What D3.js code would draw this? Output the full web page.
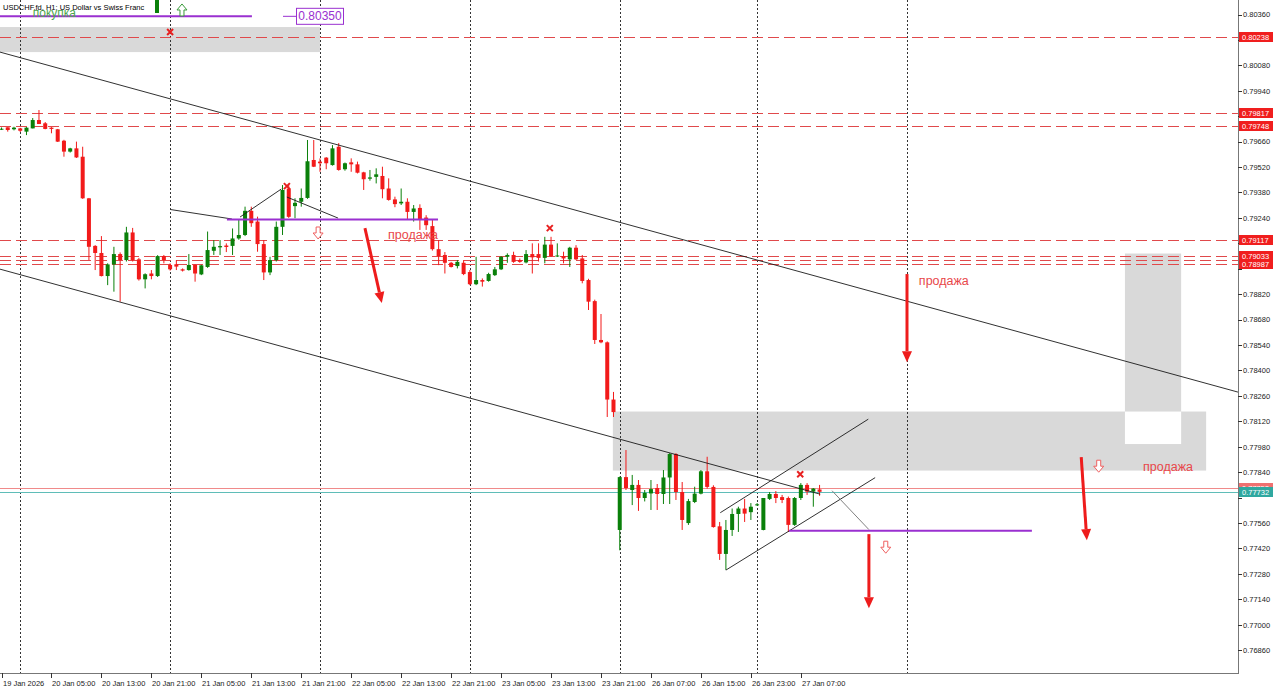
<!DOCTYPE html>
<html>
<head>
<meta charset="utf-8">
<title>USDCHF.fd H1</title>
<script src="https://cdn.jsdelivr.net/npm/d3@7"></script>
<style>
  body { margin: 0; background: #fff; overflow: hidden; }
  text { font-family: "Liberation Sans", Arial, sans-serif; }
</style>
</head>
<body>
<script>
  // H1 bars, index 0 = 19 Jan 21:00
  const opens = [0.79729,0.79739,0.79728,0.79733,0.79715,0.79733,0.79779,0.79761,0.79737,0.79728,
    0.79665,0.79605,0.79623,0.79577,0.79348,0.79086,0.79047,0.78920,0.78984,0.79041,
    0.79008,0.79160,0.79012,0.78902,0.78934,0.78920,0.79030,0.78981,0.78985,0.78957,
    0.78953,0.78981,0.78929,0.78970,0.79059,0.79078,0.79088,0.79086,0.79127,0.79146,
    0.79279,0.79220,0.79096,0.78940,0.79008,0.79191,0.79402,0.79305,0.79329,0.79350,
    0.79559,0.79550,0.79572,0.79531,0.79632,0.79508,0.79546,0.79535,0.79491,0.79456,
    0.79466,0.79471,0.79402,0.79342,0.79320,0.79329,0.79273,0.79295,0.79242,0.79195,
    0.79068,0.79036,0.78993,0.78975,0.78993,0.78942,0.78875,0.78898,0.78893,0.78925,
    0.78957,0.79026,0.79036,0.79008,0.78995,0.79041,0.79041,0.79020,0.79093,0.79030,
    0.79030,0.79012,0.79076,0.79017,0.78898,0.78782,0.78568,0.78555,0.78240,0.77522,
    0.77813,0.77742,0.77770,0.77698,0.77723,0.77753,0.77720,0.77811,0.77940,0.77731,
    0.77560,0.77676,0.77722,0.77845,0.77759,0.77542,0.77390,0.77522,0.77610,0.77640,
    0.77620,0.77660,0.77522,0.77693,0.77720,0.77703,0.77698,0.77550,0.77698,0.77770,
    0.77733,0.77745];
  const highs = [0.79738,0.79739,0.79742,0.79736,0.79740,0.79790,0.79834,0.79768,0.79740,0.79730,
    0.79670,0.79626,0.79660,0.79632,0.79350,0.79090,0.79140,0.78990,0.79081,0.79050,
    0.79191,0.79185,0.79020,0.78935,0.78953,0.79035,0.79036,0.78990,0.79008,0.78962,
    0.79041,0.78985,0.78982,0.79165,0.79118,0.79118,0.79100,0.79182,0.79229,0.79302,
    0.79302,0.79247,0.79118,0.79026,0.79220,0.79421,0.79421,0.79348,0.79402,0.79669,
    0.79669,0.79568,0.79575,0.79641,0.79652,0.79545,0.79568,0.79550,0.79494,0.79504,
    0.79513,0.79522,0.79458,0.79357,0.79402,0.79348,0.79311,0.79315,0.79255,0.79229,
    0.79118,0.79052,0.78998,0.79008,0.79008,0.78953,0.79026,0.78907,0.78938,0.78970,
    0.79030,0.79045,0.79054,0.79017,0.79063,0.79100,0.79100,0.79136,0.79136,0.79100,
    0.79054,0.79081,0.79090,0.79036,0.78905,0.78790,0.78711,0.78560,0.78282,0.77816,
    0.77962,0.77825,0.77797,0.77742,0.77797,0.77775,0.77852,0.77945,0.77945,0.77786,
    0.77693,0.77760,0.77852,0.77925,0.77768,0.77566,0.77577,0.77640,0.77650,0.77693,
    0.77670,0.77670,0.77698,0.77731,0.77736,0.77715,0.77706,0.77703,0.77780,0.77780,
    0.77753,0.77770];
  const lows = [0.79724,0.79715,0.79722,0.79713,0.79696,0.79733,0.79757,0.79728,0.79706,0.79658,
    0.79577,0.79600,0.79570,0.79345,0.79008,0.78953,0.78918,0.78870,0.78834,0.78779,
    0.79000,0.79000,0.78895,0.78852,0.78902,0.78915,0.78990,0.78950,0.78953,0.78945,
    0.78950,0.78889,0.78925,0.78965,0.79036,0.79036,0.79052,0.79036,0.79120,0.79140,
    0.79191,0.79054,0.78898,0.78925,0.79000,0.79146,0.79240,0.79238,0.79302,0.79345,
    0.79520,0.79494,0.79508,0.79528,0.79500,0.79500,0.79494,0.79485,0.79394,0.79445,
    0.79430,0.79348,0.79335,0.79299,0.79311,0.79229,0.79220,0.79174,0.79174,0.79060,
    0.78980,0.78934,0.78967,0.78962,0.78925,0.78870,0.78870,0.78862,0.78889,0.78920,
    0.78953,0.78993,0.78993,0.78993,0.78990,0.78934,0.79000,0.78990,0.79025,0.79025,
    0.78990,0.78970,0.79008,0.78880,0.78733,0.78546,0.78550,0.78144,0.78144,0.77410,
    0.77742,0.77659,0.77627,0.77679,0.77632,0.77632,0.77665,0.77665,0.77687,0.77522,
    0.77550,0.77670,0.77718,0.77750,0.77535,0.77357,0.77302,0.77489,0.77511,0.77566,
    0.77577,0.77655,0.77520,0.77687,0.77670,0.77670,0.77511,0.77545,0.77687,0.77715,
    0.77650,0.77710];
  const closes = [0.79731,0.79724,0.79737,0.79720,0.79737,0.79779,0.79757,0.79730,0.79730,0.79660,
    0.79605,0.79623,0.79573,0.79348,0.79081,0.79047,0.78920,0.78984,0.79041,0.79008,
    0.79160,0.79008,0.78902,0.78930,0.78920,0.79030,0.79008,0.78957,0.78972,0.78950,
    0.78981,0.78934,0.78979,0.79063,0.79081,0.79085,0.79080,0.79127,0.79146,0.79279,
    0.79211,0.79096,0.78940,0.79008,0.79191,0.79394,0.79246,0.79323,0.79350,0.79552,
    0.79522,0.79541,0.79541,0.79623,0.79504,0.79541,0.79535,0.79489,0.79453,0.79463,
    0.79480,0.79398,0.79339,0.79316,0.79329,0.79273,0.79292,0.79231,0.79200,0.79068,
    0.79030,0.78993,0.78970,0.78998,0.78931,0.78875,0.78898,0.78889,0.78931,0.78957,
    0.79026,0.79036,0.78998,0.78998,0.79041,0.79023,0.79020,0.79093,0.79030,0.79033,
    0.79017,0.79076,0.79012,0.78893,0.78779,0.78568,0.78555,0.78240,0.78171,0.77813,
    0.77753,0.77770,0.77698,0.77726,0.77747,0.77720,0.77811,0.77940,0.77731,0.77577,
    0.77681,0.77722,0.77845,0.77759,0.77538,0.77390,0.77522,0.77610,0.77640,0.77612,
    0.77650,0.77663,0.77698,0.77720,0.77698,0.77687,0.77550,0.77698,0.77770,0.77733,
    0.77750,0.77732];

  const priceTicks = [0.80360,0.80220,0.80080,0.79940,0.79800,0.79660,0.79520,0.79380,0.79240,0.79100,
    0.78960,0.78820,0.78680,0.78540,0.78400,0.78260,0.78120,0.77980,0.77840,0.77700,
    0.77560,0.77420,0.77280,0.77140,0.77000,0.76860];
  const timeTicks = [0,8,16,24,32,40,48,56,64,72,80,88,96,104,112,120,128];
  const timeLabels = ["19 Jan 2026","20 Jan 05:00","20 Jan 13:00","20 Jan 21:00","21 Jan 05:00",
    "21 Jan 13:00","21 Jan 21:00","22 Jan 05:00","22 Jan 13:00","22 Jan 21:00","23 Jan 05:00",
    "23 Jan 13:00","23 Jan 21:00","26 Jan 07:00","26 Jan 15:00","26 Jan 23:00","27 Jan 07:00"];
  const daySeparators = [3, 27, 51, 75, 99, 121, 145];

  // horizontal levels (red dashed) and the bid / ask lines
  const levels = [0.80238, 0.79817, 0.79748, 0.79117, 0.79033, 0.79008, 0.78987];
  const levelTags = [0.80238, 0.79817, 0.79748, 0.79117, 0.79033, 0.78987];
  const askPrice = 0.77752;
  const bidPrice = 0.77732;

  // drawn objects, anchored on bar index / price
  const zones = [
    { i1: -1, i2: 51.0, p1: 0.80291, p2: 0.80153 },
    { i1: 97.9, i2: 192.9, p1: 0.78174, p2: 0.77849 },
    { i1: 179.9, i2: 188.9, p1: 0.79044, p2: 0.77995 }
  ];
  const trendLines = [
    { i1: -0.24, p1: 0.80153, i2: 198.0, p2: 0.78281 },
    { i1: -0.24, p1: 0.78958, i2: 131.1, p2: 0.77719 },
    { i1: 27.1, p1: 0.79286, i2: 36.9, p2: 0.79234 },
    { i1: 38.2, p1: 0.79245, i2: 44.8, p2: 0.79399 },
    { i1: 45.7, p1: 0.79355, i2: 53.9, p2: 0.79239 },
    { i1: 115.1, p1: 0.77617, i2: 138.8, p2: 0.78132 },
    { i1: 116.0, p1: 0.77301, i2: 139.9, p2: 0.77810 }
  ];
  const grayLine = { i1: 133.0, p1: 0.77738, i2: 138.9, p2: 0.77524 };
  const purpleLines = [
    { i1: -1, i2: 40.1, p: 0.80350 },
    { i1: 36.1, i2: 69.9, p: 0.79231 },
    { i1: 126.1, i2: 165.0, p: 0.77518 }
  ];
  const redArrows = [
    { i1: 58.2, p1: 0.79184, i2: 60.9, p2: 0.78771 },
    { i1: 145, p1: 0.78931, i2: 145, p2: 0.78446 },
    { i1: 138.9, p1: 0.77499, i2: 138.9, p2: 0.77091 },
    { i1: 172.9, p1: 0.77923, i2: 173.8, p2: 0.77466 }
  ];
  const hollowDown = [[50.7, 0.79157], [141.6, 0.77427], [175.7, 0.77873]];
  const hollowUp = [[28.9, 0.80385]];
  const crosses = [[27.0, 0.80264], [45.7, 0.79415], [87.8, 0.79184], [127.9, 0.77829]];
  const sellTexts = [[61.9, 0.79146], [146.9, 0.78898], [182.8, 0.77873]];

  const W = 1280, H = 692, plotW = 1238, plotH = 673;
  const bull = "#0a800a", bear = "#f21a1a", levelRed = "#e0494b", purple = "#9a30d0";

  const x = d3.scaleLinear().domain([0, 145]).range([1.5, 907]);
  const y = d3.scaleLinear().domain([0.76860, 0.80360]).range([650.2, 14.5]);

  const bars = opens.map((o, i) => ({ i, o, h: highs[i], l: lows[i], c: closes[i] }));

  const svg = d3.select("body").append("svg").attr("width", W).attr("height", H);
  svg.append("rect").attr("width", W).attr("height", H).attr("fill", "#fff");
  svg.append("clipPath").attr("id", "plot").append("rect").attr("width", plotW).attr("height", plotH);
  const plot = svg.append("g").attr("clip-path", "url(#plot)");

  // zones, with the overlap knocked out like the terminal does
  plot.selectAll("rect.zone").data(zones).join("rect").attr("class", "zone")
    .attr("x", d => x(d.i1)).attr("width", d => x(d.i2) - x(d.i1))
    .attr("y", d => y(d.p1)).attr("height", d => y(d.p2) - y(d.p1))
    .attr("fill", "#d9d9d9");
  const a = zones[1], b = zones[2];
  plot.append("rect")
    .attr("x", x(Math.max(a.i1, b.i1))).attr("width", x(Math.min(a.i2, b.i2)) - x(Math.max(a.i1, b.i1)))
    .attr("y", y(Math.min(a.p1, b.p1))).attr("height", y(Math.max(a.p2, b.p2)) - y(Math.min(a.p1, b.p1)))
    .attr("fill", "#fff");

  // day separators
  plot.selectAll("line.sep").data(daySeparators).join("line").attr("class", "sep")
    .attr("x1", d => Math.round(x(d)) + 0.5).attr("x2", d => Math.round(x(d)) + 0.5)
    .attr("y1", 0).attr("y2", plotH)
    .attr("stroke", "#333").attr("stroke-dasharray", "2,2");

  // levels
  plot.selectAll("line.lvl").data(levels).join("line").attr("class", "lvl")
    .attr("x1", 0).attr("x2", plotW)
    .attr("y1", d => Math.round(y(d)) + 0.5).attr("y2", d => Math.round(y(d)) + 0.5)
    .attr("stroke", levelRed).attr("stroke-dasharray", "11,5");

  plot.append("line").attr("x1", 0).attr("x2", plotW)
    .attr("y1", Math.round(y(askPrice)) + 0.5).attr("y2", Math.round(y(askPrice)) + 0.5)
    .attr("stroke", "#f08a8a");
  plot.append("line").attr("x1", 0).attr("x2", plotW)
    .attr("y1", Math.round(y(bidPrice)) + 0.5).attr("y2", Math.round(y(bidPrice)) + 0.5)
    .attr("stroke", "#5fbdb8");

  // candles
  const cg = plot.append("g");
  cg.selectAll("line").data(bars).join("line")
    .attr("x1", d => x(d.i)).attr("x2", d => x(d.i))
    .attr("y1", d => y(d.h)).attr("y2", d => y(d.l))
    .attr("stroke", d => d.c >= d.o ? bull : bear).attr("stroke-width", 1);
  cg.selectAll("rect").data(bars).join("rect")
    .attr("x", d => x(d.i) - 2).attr("width", 4)
    .attr("y", d => y(Math.max(d.o, d.c)))
    .attr("height", d => Math.max(1, y(Math.min(d.o, d.c)) - y(Math.max(d.o, d.c))))
    .attr("fill", d => d.c >= d.o ? bull : bear);

  // trend lines
  plot.selectAll("line.tl").data(trendLines).join("line").attr("class", "tl")
    .attr("x1", d => x(d.i1)).attr("y1", d => y(d.p1))
    .attr("x2", d => x(d.i2)).attr("y2", d => y(d.p2))
    .attr("stroke", "#1a1a1a").attr("stroke-width", 0.9);
  plot.append("line")
    .attr("x1", x(grayLine.i1)).attr("y1", y(grayLine.p1))
    .attr("x2", x(grayLine.i2)).attr("y2", y(grayLine.p2))
    .attr("stroke", "#808080");

  plot.selectAll("line.pl").data(purpleLines).join("line").attr("class", "pl")
    .attr("x1", d => x(d.i1)).attr("x2", d => x(d.i2))
    .attr("y1", d => y(d.p)).attr("y2", d => y(d.p))
    .attr("stroke", purple).attr("stroke-width", 2);

  // price label of the top purple line
  const topY = y(purpleLines[0].p);
  plot.append("line").attr("x1", 283).attr("x2", 296).attr("y1", topY).attr("y2", topY)
    .attr("stroke", purple);
  plot.append("rect").attr("x", 296.5).attr("y", topY - 8).attr("width", 47).attr("height", 16)
    .attr("fill", "#fff").attr("stroke", purple);
  plot.append("text").attr("x", 320).attr("y", topY + 4).attr("text-anchor", "middle")
    .attr("font-size", 12).attr("fill", purple).text("0.80350");

  // red arrows
  redArrows.forEach(d => {
    const x1 = x(d.i1), y1 = y(d.p1), x2 = x(d.i2), y2 = y(d.p2);
    const ang = Math.atan2(y2 - y1, x2 - x1), len = 11, hw = 5;
    const bx = x2 - len * Math.cos(ang), by = y2 - len * Math.sin(ang);
    plot.append("line").attr("x1", x1).attr("y1", y1).attr("x2", bx).attr("y2", by)
      .attr("stroke", "#ee1c1c").attr("stroke-width", 3);
    const px = -Math.sin(ang) * hw, py = Math.cos(ang) * hw;
    plot.append("path")
      .attr("d", `M${x2},${y2}L${bx + px},${by + py}L${bx - px},${by - py}Z`)
      .attr("fill", "#ee1c1c");
  });

  // hollow arrows
  const downPath = (cx, cy) => `M${cx - 2},${cy - 6}H${cx + 2}V${cy}H${cx + 5}L${cx},${cy + 6}L${cx - 5},${cy}H${cx - 2}Z`;
  const upPath = (cx, cy) => `M${cx - 2},${cy + 6}H${cx + 2}V${cy}H${cx + 5}L${cx},${cy - 6}L${cx - 5},${cy}H${cx - 2}Z`;
  hollowDown.forEach(([i, p]) => plot.append("path").attr("d", downPath(x(i), y(p)))
    .attr("fill", "#fff").attr("stroke", "#ef6060"));
  hollowUp.forEach(([i, p]) => plot.append("path").attr("d", upPath(x(i), y(p)))
    .attr("fill", "#fff").attr("stroke", "#3a9a3a"));

  // crosses
  crosses.forEach(([i, p]) => {
    const cx = x(i), cy = y(p);
    plot.append("path").attr("d", `M${cx - 3},${cy - 3}L${cx + 3},${cy + 3}M${cx + 3},${cy - 3}L${cx - 3},${cy + 3}`)
      .attr("stroke", "#e82020").attr("stroke-width", 2);
  });

  // labels
  sellTexts.forEach(([i, p]) => plot.append("text").attr("x", x(i)).attr("y", y(p) + 4.5)
    .attr("font-size", 12.5).attr("fill", "#e8474a").text("продажа"));

  plot.append("rect").attr("x", 155).attr("y", 0).attr("width", 4).attr("height", 13).attr("fill", bull);
  plot.append("text").attr("x", x(5.0)).attr("y", y(0.80371) + 4.5)
    .attr("font-size", 12).attr("fill", "#4da64d").text("покупка");
  plot.append("text").attr("x", 3).attr("y", 10)
    .attr("font-size", 7.5).attr("fill", "#000").text("USDCHF.fd, H1: US Dollar vs Swiss Franc");

  // frame
  svg.append("line").attr("x1", plotW + 0.5).attr("x2", plotW + 0.5).attr("y1", 0).attr("y2", plotH + 1)
    .attr("stroke", "#777");
  svg.append("line").attr("x1", 0).attr("x2", plotW + 1).attr("y1", plotH + 0.5).attr("y2", plotH + 0.5)
    .attr("stroke", "#777");

  // price tags sit over the scale; tick labels they would cover are left out
  const tags = levelTags.map(p => ({ p, fill: "#f01e1e" }))
    .concat([{ p: askPrice, fill: "#ef7070" }, { p: bidPrice, fill: "#2fa8a0" }]);
  const visibleTicks = priceTicks.filter(t => tags.every(g => Math.abs(y(t) - y(g.p)) > 9));

  // price axis
  const ya = svg.append("g");
  ya.selectAll("line").data(priceTicks).join("line")
    .attr("x1", plotW).attr("x2", plotW + 4)
    .attr("y1", d => Math.round(y(d)) + 0.5).attr("y2", d => Math.round(y(d)) + 0.5)
    .attr("stroke", "#333");
  ya.selectAll("text").data(visibleTicks).join("text")
    .attr("x", plotW + 5).attr("y", d => y(d) + 2.8)
    .attr("font-size", 7.5).attr("fill", "#222").text(d => d.toFixed(5));

  const tg = svg.selectAll("g.tag").data(tags).join("g").attr("class", "tag")
    .attr("transform", d => `translate(${plotW + 1},${Math.round(y(d.p))})`);
  tg.append("rect").attr("x", 0).attr("y", -5).attr("width", 34).attr("height", 10).attr("fill", d => d.fill);
  tg.append("text").attr("x", 3).attr("y", 3).attr("font-size", 7.5).attr("fill", "#fff")
    .text(d => d.p.toFixed(5));

  // time axis
  const xa = svg.append("g");
  xa.selectAll("line").data(timeTicks).join("line")
    .attr("x1", d => Math.round(x(d)) + 0.5).attr("x2", d => Math.round(x(d)) + 0.5)
    .attr("y1", plotH).attr("y2", plotH + 5).attr("stroke", "#333");
  xa.selectAll("text").data(timeTicks).join("text")
    .attr("x", d => Math.round(x(d)) + 1).attr("y", plotH + 13)
    .attr("font-size", 7.5).attr("fill", "#222").text((d, k) => timeLabels[k]);
</script>
</body>
</html>
